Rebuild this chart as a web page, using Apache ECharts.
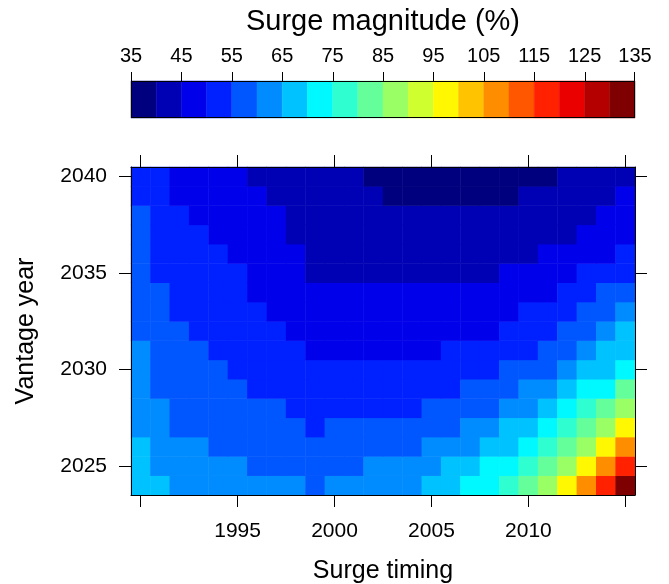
<!DOCTYPE html>
<html>
<head>
<meta charset="utf-8">
<script src="https://cdn.jsdelivr.net/npm/echarts@6/dist/echarts.min.js"></script>
<style>
html, body { margin: 0; padding: 0; background: #fff; }
#box { width: 669px; height: 584px; }
</style>
</head>
<body>
<div id="box"></div>
<script>
// categories
var timing = ['1990','1991','1992','1993','1994','1995','1996','1997','1998','1999','2000','2001','2002',
              '2003','2004','2005','2006','2007','2008','2009','2010','2011','2012','2013','2014','2015'];
var vantage = ['2024','2025','2026','2027','2028','2029','2030','2031','2032','2033','2034','2035',
               '2036','2037','2038','2039','2040'];

// tick labels
var xTickLabels = ['1995','2000','2005','2010'];
var xTickAt = ['1990','1995','2000','2005','2010','2015'];
var yTickLabels = ['2025','2030','2035','2040'];
var barTicks = ['35','45','55','65','75','85','95','105','115','125','135'];
var breaks = [35,40,45,50,55,60,65,70,75,80,85,90,95,100,105,110,115,120,125,130,135];

// surge magnitude (%), one row per vantage year, columns = surge timing 1990..2015
var v2040 = [53,53,48,48,48,48,43,43,43,43,43,43,38,38,38,38,38,38,38,38,38,38,43,43,43,43];
var v2039 = [53,53,48,48,48,48,48,43,43,43,43,43,43,38,38,38,38,38,38,38,43,43,43,43,43,48];
var v2038 = [58,53,53,48,48,48,48,48,43,43,43,43,43,43,43,43,43,43,43,43,43,43,43,43,48,48];
var v2037 = [58,53,53,53,48,48,48,48,43,43,43,43,43,43,43,43,43,43,43,43,43,43,43,48,48,48];
var v2036 = [58,53,53,53,53,48,48,48,48,43,43,43,43,43,43,43,43,43,43,43,43,48,48,48,48,53];
var v2035 = [58,53,53,53,53,53,48,48,48,43,43,43,43,43,43,43,43,43,43,48,48,48,48,53,53,53];
var v2034 = [58,58,53,53,53,53,48,48,48,48,48,48,48,48,48,48,48,48,48,48,48,48,53,53,58,58];
var v2033 = [58,58,53,53,53,53,53,48,48,48,48,48,48,48,48,48,48,48,48,48,53,53,53,58,58,63];
var v2032 = [58,58,58,53,53,53,53,53,48,48,48,48,48,48,48,48,48,48,48,53,53,53,58,58,63,68];
var v2031 = [63,58,58,58,53,53,53,53,53,48,48,48,48,48,48,48,53,53,53,53,53,58,58,63,68,68];
var v2030 = [63,58,58,58,58,53,53,53,53,53,53,53,53,53,53,53,53,53,53,58,58,58,63,68,68,73];
var v2029 = [63,58,58,58,58,58,53,53,53,53,53,53,53,53,53,53,53,58,58,58,63,63,68,73,73,83];
var v2028 = [63,63,58,58,58,58,58,58,53,53,53,53,53,53,53,58,58,58,58,63,63,68,73,78,83,88];
var v2027 = [63,63,58,58,58,58,58,58,58,53,58,58,58,58,58,58,58,63,63,68,68,73,78,83,88,98];
var v2026 = [68,63,63,63,58,58,58,58,58,58,58,58,58,58,58,63,63,63,68,68,73,78,83,88,98,108];
var v2025 = [68,63,63,63,63,63,58,58,58,58,58,58,63,63,63,63,68,68,73,73,78,83,88,98,108,118];
var v2024 = [68,68,63,63,63,63,63,63,63,58,63,63,63,63,63,68,68,73,73,78,83,88,98,108,118,133];

var rows = [v2024,v2025,v2026,v2027,v2028,v2029,v2030,v2031,v2032,v2033,v2034,v2035,
            v2036,v2037,v2038,v2039,v2040];

// jet palette, 20 steps
var jet = ['#00007F','#0000B5','#0000EB','#0021FF','#0057FF','#008CFF','#00C2FF','#00F8FF','#2FFFD0','#64FF9B',
           '#9AFF64','#D0FF2F','#FFF800','#FFC300','#FF8D00','#FF5700','#FF2100','#EB0000','#B50000','#7F0000'];

var cells = [];
for (var j = 0; j < rows.length; j++) {
    for (var i = 0; i < rows[j].length; i++) {
        cells.push([i, j, rows[j][i]]);
    }
}
var pieces = [];
var bins = [];
for (var k = 0; k < breaks.length - 1; k++) {
    pieces.push({gte: breaks[k], lt: breaks[k + 1], color: jet[k]});
    bins.push([breaks[k], breaks[k + 1], k]);
}
var breakNames = breaks.map(String);
var keyTicks = barTicks.map(function (v) { return [Number(v)]; });

var font = 'Liberation Sans, Arial, sans-serif';
var black = '#000';
var line = {show: true, onZero: false, lineStyle: {color: black, width: 1}};
var noLine = {show: false, onZero: false};
var tick = {show: true, alignWithLabel: true, length: 12, lineStyle: {color: black, width: 1}};
var onKey = function (idx, v) { return barTicks.indexOf(v) >= 0; };

// key grid holds the bar (0..1) plus room for its ticks above it
var keyBarPx = 37, keyTickPx = 9;
var keyTop = (keyBarPx + keyTickPx) / keyBarPx;

function crisp(v, lo, hi) {
    return Math.min(Math.max(Math.round(v) + 0.5, lo + 0.5), hi - 0.5);
}

var myChart = echarts.init(document.getElementById('box'));
option = {
    animation: false,
    textStyle: {fontFamily: font, color: black},
    grid: [
        {left: 131, top: 167, width: 504, height: 328, outerBoundsMode: 'none', containLabel: false},
        {left: 131, top: 72, width: 504, height: keyBarPx + keyTickPx, outerBoundsMode: 'none', containLabel: false}
    ],
    xAxis: [
        {
            type: 'category', gridIndex: 0, data: timing, position: 'bottom', z: 5,
            name: 'Surge timing', nameLocation: 'middle', nameGap: 64,
            nameTextStyle: {fontSize: 25, color: black, fontFamily: font},
            axisLine: line,
            axisTick: Object.assign({}, tick, {
                interval: function (idx, v) { return xTickAt.indexOf(v) >= 0; }}),
            axisLabel: {fontSize: 21, color: black, margin: 26, fontFamily: font,
                interval: function (idx, v) { return xTickLabels.indexOf(v) >= 0; }},
            splitLine: {show: false}
        },
        {
            type: 'category', gridIndex: 0, data: timing, position: 'top', z: 5,
            axisLine: line,
            axisTick: Object.assign({}, tick, {
                interval: function (idx, v) { return xTickAt.indexOf(v) >= 0; }}),
            axisLabel: {show: false},
            splitLine: {show: false}
        },
        {
            // colour key labels at the break points 35..135, every 10
            type: 'category', gridIndex: 1, data: breakNames, boundaryGap: false, position: 'top',
            name: 'Surge magnitude (%)', nameLocation: 'middle', nameGap: 36,
            nameTextStyle: {fontSize: 29, color: black, fontFamily: font},
            axisLine: noLine,
            axisTick: {show: false},
            axisLabel: {fontSize: 20, color: black, margin: 6, fontFamily: font, interval: onKey},
            splitLine: {show: false}
        },
        {
            type: 'value', gridIndex: 1, min: 35, max: 135, position: 'bottom',
            axisLine: noLine, axisTick: {show: false}, axisLabel: {show: false}, splitLine: {show: false}
        }
    ],
    yAxis: [
        {
            type: 'category', gridIndex: 0, data: vantage, position: 'left', z: 5,
            name: 'Vantage year', nameLocation: 'middle', nameGap: 92, nameRotate: 90,
            nameTextStyle: {fontSize: 25, color: black, fontFamily: font},
            axisLine: line,
            axisTick: Object.assign({}, tick, {
                interval: function (idx, v) { return yTickLabels.indexOf(v) >= 0; }}),
            axisLabel: {fontSize: 21, color: black, margin: 24, fontFamily: font,
                interval: function (idx, v) { return yTickLabels.indexOf(v) >= 0; }},
            splitLine: {show: false}
        },
        {
            type: 'category', gridIndex: 0, data: vantage, position: 'right', z: 5,
            axisLine: line,
            axisTick: Object.assign({}, tick, {
                interval: function (idx, v) { return yTickLabels.indexOf(v) >= 0; }}),
            axisLabel: {show: false},
            splitLine: {show: false}
        },
        {
            type: 'value', gridIndex: 1, min: 0, max: keyTop, position: 'left',
            axisLine: noLine, axisTick: {show: false}, axisLabel: {show: false}, splitLine: {show: false}
        }
    ],
    visualMap: {
        type: 'piecewise', show: false, seriesIndex: 0, dimension: 2,
        pieces: pieces
    },
    series: [
        {
            type: 'heatmap', xAxisIndex: 0, yAxisIndex: 0, data: cells,
            itemStyle: {borderWidth: 0},
            emphasis: {disabled: true}
        },
        {
            // colour steps
            type: 'custom', xAxisIndex: 3, yAxisIndex: 2, data: bins, z: 3,
            renderItem: function (params, api) {
                var p0 = api.coord([api.value(0), 1]);
                var p1 = api.coord([api.value(1), 0]);
                var c = jet[api.value(2)];
                return {
                    type: 'rect',
                    shape: {x: p0[0], y: p0[1], width: p1[0] - p0[0], height: p1[1] - p0[1]},
                    style: {fill: c, stroke: c, lineWidth: 0.5}
                };
            }
        },
        {
            // frame of the key
            type: 'custom', xAxisIndex: 3, yAxisIndex: 2, data: [[35, 135]], z: 4,
            renderItem: function (params, api) {
                var cs = params.coordSys;
                var p0 = api.coord([api.value(0), 1]);
                var p1 = api.coord([api.value(1), 0]);
                var x0 = crisp(p0[0], cs.x, cs.x + cs.width);
                var x1 = crisp(p1[0], cs.x, cs.x + cs.width);
                var y0 = Math.round(p0[1]) + 0.5;
                var y1 = crisp(p1[1], cs.y, cs.y + cs.height);
                return {
                    type: 'rect',
                    shape: {x: x0, y: y0, width: x1 - x0, height: y1 - y0},
                    style: {fill: 'none', stroke: black, lineWidth: 1}
                };
            }
        },
        {
            // ticks above the key
            type: 'custom', xAxisIndex: 3, yAxisIndex: 2, data: keyTicks, z: 4,
            encode: {x: 0},
            renderItem: function (params, api) {
                var cs = params.coordSys;
                var v = api.value(0);
                var pb = api.coord([v, 1]);
                var pt = api.coord([v, keyTop]);
                var x = crisp(pb[0], cs.x, cs.x + cs.width);
                return {
                    type: 'line',
                    shape: {x1: x, y1: pb[1], x2: x, y2: pt[1]},
                    style: {stroke: black, lineWidth: 1}
                };
            }
        }
    ]
};
myChart.setOption(option);
</script>
</body>
</html>
